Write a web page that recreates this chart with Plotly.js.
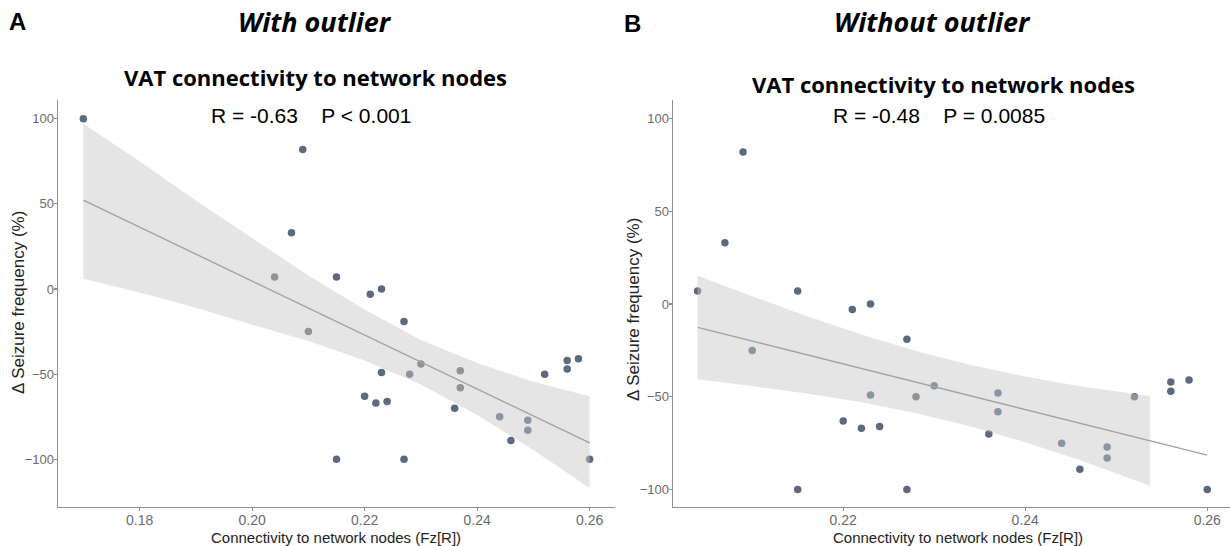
<!DOCTYPE html>
<html>
<head>
<meta charset="utf-8">
<script src="https://cdn.plot.ly/plotly-3.0.1.min.js"></script>
<style>html,body{margin:0;padding:0;background:#fff;}#chart{width:1231px;height:546px;}</style>
</head>
<body>
<div id="chart"></div>
<script>
// Panel A: with outlier
const xWith = [0.170,0.204,0.207,0.209,0.210,0.215,0.215,0.220,0.221,0.222,0.223,0.223,0.224,0.227,0.227,0.228,0.230,0.236,0.237,0.237,0.244,0.246,0.249,0.249,0.252,0.256,0.256,0.258,0.260];
const yWith = [100,7,33,82,-25,7,-100,-63,-3,-67,0,-49,-66,-19,-100,-50,-44,-70,-48,-58,-75,-89,-77,-83,-50,-42,-47,-41,-100];
const fitWithX = [0.170,0.260];
const fitWithY = [52.2,-90.4];
const bandWithX = [0.17,0.18,0.19,0.20,0.21,0.22,0.23,0.24,0.25,0.26];
const bandWithUpper = [97,75,52,30,8,-12,-30,-43.5,-54.5,-63];
const bandWithLower = [6,-2,-11,-21,-30.5,-42,-56,-74,-94.5,-117];

// Panel B: without outlier
const xWithout = [0.204,0.207,0.209,0.210,0.215,0.215,0.220,0.221,0.222,0.223,0.223,0.224,0.227,0.227,0.228,0.230,0.236,0.237,0.237,0.244,0.246,0.249,0.249,0.252,0.256,0.256,0.258,0.260];
const yWithout = [7,33,82,-25,7,-100,-63,-3,-67,0,-49,-66,-19,-100,-50,-44,-70,-48,-58,-75,-89,-77,-83,-50,-42,-47,-41,-100];
const fitWithoutX = [0.204,0.260];
const fitWithoutY = [-12.6,-81.4];
const bandWithoutX = [0.204,0.210,0.216,0.222,0.228,0.234,0.240,0.246,0.2537];
const bandWithoutUpper = [15.3,4.2,-6.4,-16.4,-25.3,-32.8,-39.1,-44.3,-49.5];
const bandWithoutLower = [-40.5,-44.2,-48.2,-53,-58.9,-66,-74.5,-84.1,-97.9];

// Text
const panelLetters = ['A','B'];
const panelTitles = ['With outlier','Without outlier'];
const plotTitle = 'VAT connectivity to network nodes';
const statsText = ['R = -0.63\u00a0\u00a0\u00a0\u00a0P < 0.001','R = -0.48\u00a0\u00a0\u00a0\u00a0P = 0.0085'];
const xTitle = 'Connectivity to network nodes (Fz[R])';
const yTitle = '\u0394 Seizure frequency (%)';

const W = 1231, H = 546;
const px = v => v / W;
const py = v => 1 - v / H;

const pointColor = '#5b6a7e';
const ribbonFill = 'rgba(198,198,198,0.46)';
const lineColor = '#a3a3a3';

function band(xs, up, lo, xa, ya) {
  return {
    x: xs.concat(xs.slice().reverse()),
    y: up.concat(lo.slice().reverse()),
    xaxis: xa, yaxis: ya,
    type: 'scatter', mode: 'lines', fill: 'toself',
    fillcolor: ribbonFill, line: {width: 0}, hoverinfo: 'skip'
  };
}

const traces = [
  {x: xWith, y: yWith, xaxis: 'x', yaxis: 'y', type: 'scatter', mode: 'markers',
   marker: {size: 7.5, color: pointColor}},
  band(bandWithX, bandWithUpper, bandWithLower, 'x', 'y'),
  {x: fitWithX, y: fitWithY, xaxis: 'x', yaxis: 'y', type: 'scatter', mode: 'lines',
   line: {color: lineColor, width: 1.4}},
  {x: xWithout, y: yWithout, xaxis: 'x2', yaxis: 'y2', type: 'scatter', mode: 'markers',
   marker: {size: 7.5, color: pointColor}},
  band(bandWithoutX, bandWithoutUpper, bandWithoutLower, 'x2', 'y2'),
  {x: fitWithoutX, y: fitWithoutY, xaxis: 'x2', yaxis: 'y2', type: 'scatter', mode: 'lines',
   line: {color: lineColor, width: 1.4}}
];

const xTickFont = {family: 'Liberation Sans, Arial, sans-serif', size: 14, color: '#6b6b6b'};
const yTickFont = {family: 'Liberation Sans, Arial, sans-serif', size: 13, color: '#6b6b6b'};
const axisCommon = {
  showgrid: false, zeroline: false, showline: true, linecolor: '#8f8f8f', linewidth: 1.4,
  ticks: 'outside', ticklen: 3, tickcolor: '#8f8f8f', tickwidth: 1.2
};

const layout = {
  width: W, height: H,
  margin: {l: 0, r: 0, t: 0, b: 0},
  paper_bgcolor: '#ffffff', plot_bgcolor: '#ffffff',
  showlegend: false,
  xaxis: Object.assign({}, axisCommon, {tickfont: xTickFont, domain: [px(58), px(615)], range: [0.1655, 0.2645], dtick: 0.02, tick0: 0.18, tickformat: '.2f', anchor: 'y', ticklabelstandoff: -3}),
  yaxis: Object.assign({}, axisCommon, {tickfont: yTickFont, domain: [py(507), py(100)], range: [-128, 111], dtick: 50, tick0: 0, anchor: 'x', ticklabelstandoff: -3}),
  xaxis2: Object.assign({}, axisCommon, {tickfont: xTickFont, domain: [px(673), px(1230)], range: [0.2013, 0.2625], dtick: 0.02, tick0: 0.18, tickformat: '.2f', anchor: 'y2', ticklabelstandoff: -3}),
  yaxis2: Object.assign({}, axisCommon, {tickfont: yTickFont, domain: [py(507), py(100)], range: [-109.4, 110], dtick: 50, tick0: 0, anchor: 'x2', ticklabelstandoff: -3}),
  annotations: [
    {text: '<b>' + panelLetters[0] + '</b>', x: px(7), y: py(22), xref: 'paper', yref: 'paper', xanchor: 'left', yanchor: 'middle', showarrow: false,
     font: {family: 'Liberation Sans, Arial, sans-serif', size: 24, color: '#000'}},
    {text: '<b>' + panelLetters[1] + '</b>', x: px(622), y: py(24), xref: 'paper', yref: 'paper', xanchor: 'left', yanchor: 'middle', showarrow: false,
     font: {family: 'Liberation Sans, Arial, sans-serif', size: 24, color: '#000'}},
    {text: '<b><i>' + panelTitles[0] + '</i></b>', x: px(315), y: py(22), xref: 'paper', yref: 'paper', xanchor: 'center', yanchor: 'middle', showarrow: false,
     font: {family: 'Open Sans, sans-serif', size: 27, color: '#000'}},
    {text: '<b><i>' + panelTitles[1] + '</i></b>', x: px(932), y: py(22), xref: 'paper', yref: 'paper', xanchor: 'center', yanchor: 'middle', showarrow: false,
     font: {family: 'Open Sans, sans-serif', size: 27, color: '#000'}},
    {text: '<b>' + plotTitle + '</b>', x: px(315), y: py(77), xref: 'paper', yref: 'paper', xanchor: 'center', yanchor: 'middle', showarrow: false,
     font: {family: 'Open Sans, sans-serif', size: 22, color: '#000'}},
    {text: '<b>' + plotTitle + '</b>', x: px(943), y: py(84), xref: 'paper', yref: 'paper', xanchor: 'center', yanchor: 'middle', showarrow: false,
     font: {family: 'Open Sans, sans-serif', size: 22, color: '#000'}},
    {text: statsText[0], x: px(311), y: py(115), xref: 'paper', yref: 'paper', xanchor: 'center', yanchor: 'middle', showarrow: false,
     font: {family: 'Liberation Sans, Arial, sans-serif', size: 21, color: '#000'}},
    {text: statsText[1], x: px(939), y: py(115), xref: 'paper', yref: 'paper', xanchor: 'center', yanchor: 'middle', showarrow: false,
     font: {family: 'Liberation Sans, Arial, sans-serif', size: 21, color: '#000'}},
    {text: xTitle, x: px(336), y: py(537), xref: 'paper', yref: 'paper', xanchor: 'center', yanchor: 'middle', showarrow: false,
     font: {family: 'Liberation Sans, Arial, sans-serif', size: 15, color: '#222'}},
    {text: xTitle, x: px(958), y: py(537), xref: 'paper', yref: 'paper', xanchor: 'center', yanchor: 'middle', showarrow: false,
     font: {family: 'Liberation Sans, Arial, sans-serif', size: 15, color: '#222'}},
    {text: yTitle, x: px(18), y: py(303), xref: 'paper', yref: 'paper', xanchor: 'center', yanchor: 'middle', textangle: -90, showarrow: false,
     font: {family: 'Liberation Sans, Arial, sans-serif', size: 17, color: '#222'}},
    {text: yTitle, x: px(633), y: py(310), xref: 'paper', yref: 'paper', xanchor: 'center', yanchor: 'middle', textangle: -90, showarrow: false,
     font: {family: 'Liberation Sans, Arial, sans-serif', size: 17, color: '#222'}}
  ]
};

Plotly.newPlot('chart', traces, layout, {displayModeBar: false, staticPlot: true});
</script>
</body>
</html>
